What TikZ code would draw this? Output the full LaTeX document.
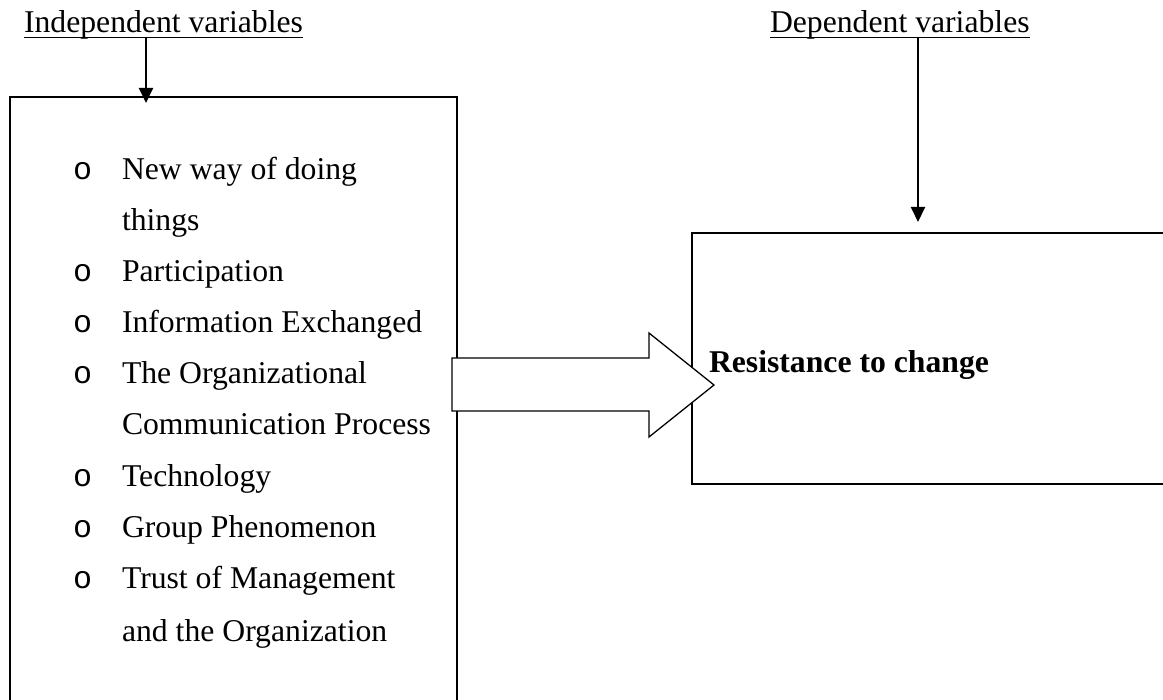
\documentclass[tikz,border=0pt]{standalone}
\usepackage{fontspec}
\setmainfont{Liberation Serif}
\newfontfamily\bulletfont{Liberation Mono}
\usetikzlibrary{arrows.meta}
\begin{document}
\begin{tikzpicture}[x=1pt,y=-1pt,
  every node/.style={inner sep=0pt,outer sep=0pt},
  txt/.style={anchor=base west,font=\fontsize{31.7}{38}\selectfont},
  bul/.style={anchor=base west,font=\bulletfont\fontsize{31.7}{38}\selectfont},
  heading/.style={anchor=base west,font=\fontsize{31.7}{38}\selectfont},
  boxline/.style={line width=2pt},
  pointer/.style={line width=2pt,-{Triangle[length=15pt,width=14pt]}},
  bigarrow/.style={line width=1.3pt,fill=white,line join=miter}]
\useasboundingbox (0,0) rectangle (1163,700);
\clip (0,0) rectangle (1163,700);
\fill[white] (0,0) rectangle (1163,700);

% headings
\node[heading] (indep) at (24,33) {Independent variables};
\node[heading] (dep) at (770,33) {Dependent variables};
\draw[line width=1.5pt] ([yshift=-4.5pt]indep.base west) -- ([yshift=-4.5pt]indep.base east);
\draw[line width=1.5pt] ([yshift=-4.5pt]dep.base west) -- ([yshift=-4.5pt]dep.base east);

% boxes
\draw[boxline] (10,720) -- (10,97) -- (457,97) -- (457,720);
\draw[boxline] (1180,233) -- (692,233) -- (692,484) -- (1180,484);
\coordinate (lbox) at (146,103);
\coordinate (rbox) at (918,222);
\coordinate (lstart) at (146,38);
\coordinate (rstart) at (918,38);
\draw[pointer] (lstart) -- (lbox);
\draw[pointer] (rstart) -- (rbox);

% big arrow
\draw[bigarrow] (452,358) -- (649,358) -- (649,333) -- (714,385) -- (649,437) -- (649,411) -- (452,411) -- cycle;

% list
\foreach \y/\t/\b in {180/New way of doing/1, 231/things/0, 282/Participation/1, 333/Information Exchanged/1, 384/The Organizational/1, 435/Communication Process/0, 487/Technology/1, 538/Group Phenomenon/1, 589/Trust of Management/1, 641/and the Organization/0}{
  \node[txt] (item\y) at (122,\y) {\t};
  \ifnum\b=1 \node[bul] (b\y) at (73,\y) {o};\fi
}

\node[anchor=base west,font=\fontsize{31.7}{38}\selectfont\bfseries] (res) at (709,373) {Resistance to change};
\end{tikzpicture}
\end{document}
